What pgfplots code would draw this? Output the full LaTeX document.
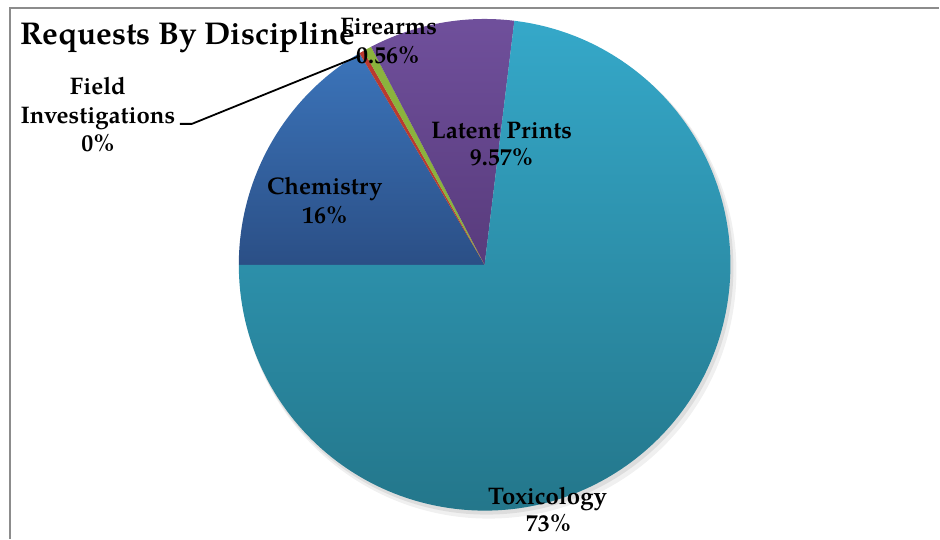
\documentclass[border=0pt]{standalone}
\usepackage{pgfplots}
\pgfplotsset{compat=1.18}
\usepackage{fontspec}
\setmainfont{TeX Gyre Pagella}

\definecolor{chemtop}{HTML}{3B74BA}
\definecolor{chembot}{HTML}{2B4F86}
\definecolor{fieldred}{HTML}{BA3A2F}
\definecolor{firegreen}{HTML}{8BB33D}
\definecolor{lattop}{HTML}{70509C}
\definecolor{latbot}{HTML}{583B7C}
\definecolor{toxtop}{HTML}{35A8C9}
\definecolor{toxbot}{HTML}{237589}
\definecolor{frame}{HTML}{8C8C8C}

% shares in percent, clockwise from 9 o'clock
\def\pChem{16.5}
\def\pField{0.3}
\def\pFire{0.56}
\def\pLatent{9.57}
\def\pTox{73.07}
\pgfmathsetmacro\aChem{180}
\pgfmathsetmacro\aField{\aChem-3.6*\pChem}
\pgfmathsetmacro\aFire{\aField-3.6*\pField}
\pgfmathsetmacro\aLatent{\aFire-3.6*\pFire}
\pgfmathsetmacro\aTox{\aLatent-3.6*\pLatent}

\newcommand\lbl{\fontsize{24}{24}\selectfont\bfseries}

\begin{document}
\begin{tikzpicture}
\begin{axis}[x=1pt, y=1pt, xmin=0, xmax=940, ymin=0, ymax=539,
  hide axis, clip=false]
\path (axis cs:0,0) rectangle (axis cs:940,539);

% chart frame (left and top edges only)
\addplot[frame, line width=1.5pt, mark=none] coordinates {(10,0) (10,531) (940,531)};

% soft shadow under the pie
\fill[black, opacity=0.06] (axis cs:489,268) circle[radius=248pt];
\fill[black, opacity=0.08] (axis cs:487,271) circle[radius=247pt];

% slices
\shade[top color=chemtop, bottom color=chembot] (axis cs:485,274) -- ++(\aChem:246pt)
  arc[start angle=\aChem, delta angle=-3.6*\pChem, radius=246pt] -- cycle;
\fill[fieldred] (axis cs:485,274) -- ++(\aField:246pt)
  arc[start angle=\aField, delta angle=-3.6*\pField, radius=246pt] -- cycle;
\fill[firegreen] (axis cs:485,274) -- ++(\aFire:246pt)
  arc[start angle=\aFire, delta angle=-3.6*\pFire, radius=246pt] -- cycle;
\shade[top color=lattop, bottom color=latbot] (axis cs:485,274) -- ++(\aLatent:246pt)
  arc[start angle=\aLatent, delta angle=-3.6*\pLatent, radius=246pt] -- cycle;
\shade[top color=toxtop, bottom color=toxbot] (axis cs:485,274) -- ++(\aTox:246pt)
  arc[start angle=\aTox, delta angle=-3.6*\pTox, radius=246pt] -- cycle;

% title
\node[anchor=base west, inner sep=0pt, font=\fontsize{31.5}{31.5}\selectfont\bfseries]
  at (axis cs:20,494) {Requests By Discipline};

% leader line for Field Investigations
\addplot[black, line width=1.8pt, mark=none] coordinates {(180,415) (192,415) (360,483)};

% data labels
\node[anchor=base, font=\lbl] at (axis cs:98,444) {Field};
\node[anchor=base, font=\lbl] at (axis cs:98,415.7) {Investigations};
\node[anchor=base, font=\lbl] at (axis cs:98,387.3) {0\%};
\node[anchor=base, font=\lbl] at (axis cs:389,504) {Firearms};
\node[anchor=base, font=\lbl] at (axis cs:388,475.7) {0.56\%};
\node[anchor=base, font=\lbl] at (axis cs:502,400.7) {Latent Prints};
\node[anchor=base, font=\lbl] at (axis cs:502,373.3) {9.57\%};
\node[anchor=base, font=\lbl] at (axis cs:325,344) {Chemistry};
\node[anchor=base, font=\lbl] at (axis cs:325,315.7) {16\%};
\node[anchor=base, font=\lbl] at (axis cs:548,34) {Toxicology};
\node[anchor=base, font=\lbl] at (axis cs:549,7.3) {73\%};
\end{axis}
\end{tikzpicture}
\end{document}
